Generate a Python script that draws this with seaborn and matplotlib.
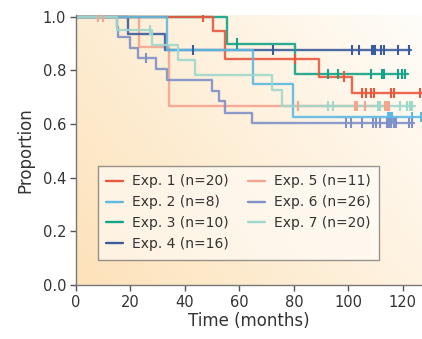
import numpy as np
import pandas as pd
import matplotlib
matplotlib.use("Agg")
import matplotlib.pyplot as plt
from matplotlib.lines import Line2D
import seaborn as sns

# ---------------- data ----------------
labels = ["Exp. 1 (n=20)", "Exp. 2 (n=8)", "Exp. 3 (n=10)", "Exp. 4 (n=16)",
          "Exp. 5 (n=11)", "Exp. 6 (n=26)", "Exp. 7 (n=20)"]

exp1_t = [0, 50.2, 54.7, 89.3, 101.2, 127.0]
exp1_s = [1.0, 0.947, 0.842, 0.777, 0.716, 0.716]
exp1_c = [46.7, 80.4, 98.5, 104.8, 106.4, 108.1, 109.3, 115.6, 116.8, 126.2]

exp2_t = [0, 33.3, 64.8, 79.8, 127.0]
exp2_s = [1.0, 0.875, 0.75, 0.625, 0.625]
exp2_c = [114.6, 115.2, 116.0, 123.2, 126.6]

exp3_t = [0, 55.3, 80.4, 121.7]
exp3_s = [1.0, 0.9, 0.7875, 0.7875]
exp3_c = [59.0, 92.6, 96.0, 108.3, 112.4, 113.1, 118.3, 119.7, 120.7]

exp4_t = [0, 19.0, 32.7, 123.0]
exp4_s = [1.0, 0.9375, 0.875, 0.875]
exp4_c = [43.0, 72.2, 101.2, 104.0, 108.5, 109.1, 109.7, 111.9, 113.1, 118.3, 122.2]

exp5_t = [0, 23.1, 34.2, 115.0]
exp5_s = [1.0, 0.889, 0.667, 0.667]
exp5_c = [8.0, 9.8, 81.6, 102.4, 103.2, 106.0, 113.4, 114.0, 115.0]

exp6_t = [0, 15.0, 15.5, 20.0, 22.9, 29.2, 33.3, 50.0, 52.5, 54.7, 64.5, 124.0]
exp6_s = [1.0, 0.962, 0.923, 0.885, 0.846, 0.806, 0.764, 0.724, 0.687, 0.642, 0.605, 0.605]
exp6_c = [25.7, 99.1, 100.8, 104.8, 109.1, 110.1, 111.6, 114.0, 114.6, 115.2,
          115.8, 116.7, 117.6, 122.2, 123.2]

exp7_t = [0, 15.0, 27.8, 37.5, 43.7, 72.0, 75.5, 124.4]
exp7_s = [1.0, 0.95, 0.895, 0.837, 0.783, 0.727, 0.667, 0.667]
exp7_c = [27.2, 92.6, 94.3, 110.7, 111.6, 118.9, 121.6, 122.6, 123.2]

times = [exp1_t, exp2_t, exp3_t, exp4_t, exp5_t, exp6_t, exp7_t]
survs = [exp1_s, exp2_s, exp3_s, exp4_s, exp5_s, exp6_s, exp7_s]
cens = [exp1_c, exp2_c, exp3_c, exp4_c, exp5_c, exp6_c, exp7_c]

colors = ["#E9573C", "#5DB9E2", "#13A388", "#3B5C9C", "#F5A48E", "#7F91C8", "#9FD8CC"]
zorders = [5, 6, 4, 3, 2, 7, 8]

# ---------------- build long-form tables ----------------
rows, crows = [], []
for lab, t, s, c in zip(labels, times, survs, cens):
    for ti, si in zip(t, s):
        rows.append((lab, ti, si))
    t_arr, s_arr = np.array(t), np.array(s)
    for ci in c:
        idx = np.searchsorted(t_arr, ci, side="right") - 1
        crows.append((lab, ci, s_arr[idx]))
df = pd.DataFrame(rows, columns=["group", "time", "surv"])
cdf = pd.DataFrame(crows, columns=["group", "time", "surv"])
palette = dict(zip(labels, colors))

sns.set_style("ticks")
plt.rcParams["font.family"] = ["DejaVu Sans"]

fig = plt.figure(figsize=(4.22, 3.39), dpi=100)
ax = fig.add_axes([76 / 422, 1 - 285 / 339, 346 / 422, 269.6 / 339])

# background gradient (peach bottom-left -> white top-right)
nx, ny = 200, 200
gx, gy = np.meshgrid(np.linspace(0, 1, nx), np.linspace(0, 1, ny))
g = np.clip(0.62 * gx + 0.38 * gy, 0, 1)
peach = np.array([253, 226, 186]) / 255
white = np.array([255, 253, 249]) / 255
img = peach[None, None, :] * (1 - g[..., None]) + white[None, None, :] * g[..., None]
ax.imshow(img, extent=[0, 1, 0, 1], transform=ax.transAxes, origin="lower",
          aspect="auto", zorder=0, interpolation="bilinear")

sns.lineplot(data=df, x="time", y="surv", hue="group", hue_order=labels,
             palette=palette, drawstyle="steps-post", estimator=None, sort=False,
             linewidth=1.7, ax=ax, legend=False)
for line, z in zip(ax.get_lines(), zorders):
    line.set_zorder(z)
    line.set_alpha(0.9)

sns.scatterplot(data=cdf, x="time", y="surv", hue="group", hue_order=labels,
                palette=palette, marker="|", s=55, linewidth=1.5, ax=ax,
                legend=False, zorder=9)

ax.set_xlim(0, 127)
ax.set_ylim(0, 1.005)
ax.set_xticks([0, 20, 40, 60, 80, 100, 120])
ax.set_yticks([0, 0.2, 0.4, 0.6, 0.8, 1.0])
ax.set_yticklabels([f"{v:.1f}" for v in [0, 0.2, 0.4, 0.6, 0.8, 1.0]])
ax.set_xlabel("Time (months)", fontsize=12, color="#333333", labelpad=2)
ax.set_ylabel("Proportion", fontsize=12, color="#333333", labelpad=6)
ax.tick_params(axis="both", labelsize=10.5, colors="#555555", labelcolor="#333333",
               length=4, width=1, direction="out", pad=3)
for sp in ["top", "right"]:
    ax.spines[sp].set_visible(False)
for sp in ["left", "bottom"]:
    ax.spines[sp].set_color("#777777")
    ax.spines[sp].set_linewidth(1.0)
    ax.spines[sp].set_zorder(10)

handles = [Line2D([0], [0], color=c, lw=1.7) for c in colors]
leg = ax.legend(handles, labels, ncol=2, loc="upper left",
                bbox_to_anchor=(0.064, 0.441), borderaxespad=0, fontsize=10,
                handlelength=1.2, handletextpad=0.65, columnspacing=1.4,
                labelspacing=0.5, frameon=True, fancybox=False,
                edgecolor="#444444", facecolor="white", framealpha=0.55,
                borderpad=0.6)
leg.get_frame().set_linewidth(1.0)
for t in leg.get_texts():
    t.set_color("#333333")
leg.set_zorder(20)

fig.savefig("out.png", dpi=100)
